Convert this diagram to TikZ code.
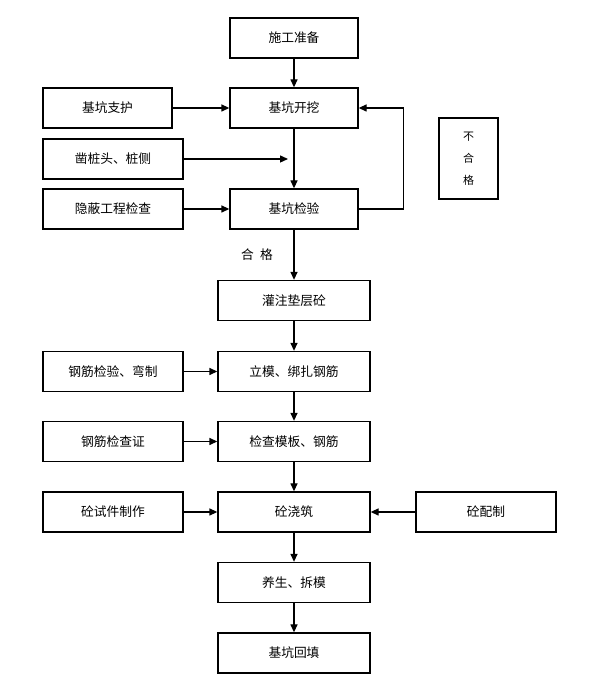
\documentclass[tikz,border=0pt]{standalone}
\usepackage{fontspec}
\newfontfamily\cjk{Noto Sans CJK SC}
\usetikzlibrary{arrows.meta,positioning}

\begin{document}
\begin{tikzpicture}[box/.style={draw,line width=1.5pt,minimum height=1.6cm,inner sep=0pt,font=\cjk\fontsize{14.5}{16}\selectfont},
flow/.style={-{Triangle[length=3.2mm,width=2.8mm]},line width=1.5pt}]
\useasboundingbox (0,0) rectangle (23.76,28);
% main line
\node[box,minimum width=5.12cm] (prep) at (11.76,26.48) {施工准备};
\node[box,minimum width=5.12cm] (dig) at (11.76,23.68) {基坑开挖};
\node[box,minimum width=5.12cm] (pitchk) at (11.76,19.64) {基坑检验};
\node[box,minimum width=6.08cm] (cushion) at (11.76,15.98) {灌注垫层砼};
\node[box,minimum width=6.08cm] (form) at (11.76,13.14) {立模、绑扎钢筋};
\node[box,minimum width=6.08cm] (formchk) at (11.76,10.34) {检查模板、钢筋};
\node[box,minimum width=6.08cm] (pour) at (11.76,7.52) {砼浇筑};
\node[box,minimum width=6.08cm] (cure) at (11.76,4.70) {养生、拆模};
\node[box,minimum width=6.08cm] (backfill) at (11.76,1.88) {基坑回填};
% side boxes
\node[box,minimum width=5.16cm] (support) at (4.30,23.68) {基坑支护};
\node[box,minimum width=5.6cm] (pile) at (4.52,21.64) {凿桩头、桩侧};
\node[box,minimum width=5.6cm] (hidden) at (4.52,19.64) {隐蔽工程检查};
\node[box,minimum width=5.6cm] (rebar) at (4.52,13.14) {钢筋检验、弯制};
\node[box,minimum width=5.6cm] (cert) at (4.52,10.34) {钢筋检查证};
\node[box,minimum width=5.6cm] (sample) at (4.52,7.52) {砼试件制作};
\node[box,minimum width=5.6cm] (mix) at (19.44,7.52) {砼配制};
\node[box,minimum width=2.36cm,minimum height=3.24cm,align=center,font=\cjk\fontsize{12.5}{25}\selectfont] (fail) at (18.74,21.66) {不\\合\\格};
\node[font=\cjk\fontsize{14.5}{16}\selectfont] (pass) at (10.28,17.8) {合\enspace 格};
\coordinate (pilein) at (11.52,21.64);
% arrows
\draw[flow] (prep) -- (dig);
\draw[flow] (support) -- (dig);
\draw[flow] (pile) -- (pilein);
\draw[flow] (dig) -- (pitchk);
\draw[flow] (hidden) -- (pitchk);
\draw[flow] (pitchk.east) -- ++(1.8,0) |- (dig.east);
\draw[flow] (pitchk) -- (cushion);
\draw[flow] (cushion) -- (form);
\draw[flow] (rebar) -- (form);
\draw[flow] (form) -- (formchk);
\draw[flow] (cert) -- (formchk);
\draw[flow] (formchk) -- (pour);
\draw[flow] (sample) -- (pour);
\draw[flow] (mix) -- (pour);
\draw[flow] (pour) -- (cure);
\draw[flow] (cure) -- (backfill);
\end{tikzpicture}
\end{document}
